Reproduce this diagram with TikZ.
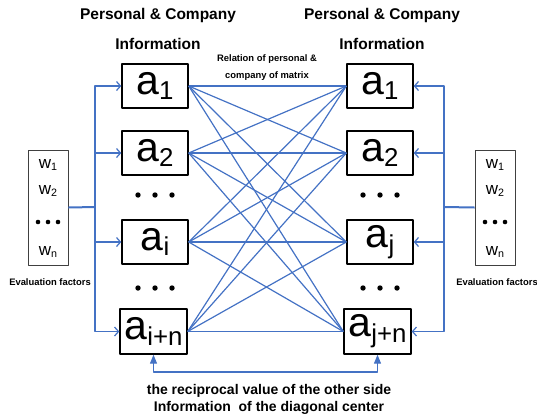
\documentclass[tikz,border=0pt]{standalone}
\usepackage{fontspec}
\setmainfont{Liberation Sans}
\usetikzlibrary{arrows.meta}
\definecolor{linkblue}{RGB}{68,114,196}
\newcommand{\lowsub}[1]{\raisebox{-0.14em}{\scalebox{0.63}{#1}}}
\tikzset{
	abox/.style={draw, line width=1.4pt, minimum width=66, minimum height=44, inner sep=0pt, font=\fontsize{41}{41}\selectfont},
	wbox/.style={draw, black!75, line width=0.9pt, minimum width=40, minimum height=115, inner sep=0pt},
	wtext/.style={font=\fontsize{17}{17}\selectfont, inner sep=0pt},
	link/.style={linkblue, line width=1.2pt},
	barb/.style={link, -{Straight Barb[length=4pt,width=9pt]}},
	feed/.style={link, {Triangle[length=9pt,width=7pt]}-{Triangle[length=9pt,width=7pt]}},
	title/.style={font=\fontsize{15.5}{15.5}\bfseries\selectfont},
	note/.style={font=\fontsize{9.4}{11}\bfseries\selectfont, align=center}
}
\begin{document}
\begin{tikzpicture}[x=1pt, y=-1pt, line join=round]
	\useasboundingbox (0,0) rectangle (537,416);
	\def\xl{155} \def\xr{380} % box columns
	% titles
	\node[title] (tl1) at (158,15) {Personal \& Company};
	\node[title] (tl2) at (158,44) {Information};
	\node[title] (tr1) at (382,15) {Personal \& Company};
	\node[title] (tr2) at (382,44) {Information};
	\node[note] (rel) at (267,67.5) {Relation of personal \&\\[6pt]company of matrix};
	% left column
	\node[abox] (La1) at (\xl,86) {a\lowsub{1}};
	\node[abox] (La2) at (\xl,153) {a\lowsub{2}};
	\node[abox] (Lai) at (\xl,242) {a\lowsub{i}};
	\node[abox, minimum width=67, minimum height=45] (Lan) at (\xl-1.5,331.5) {a\lowsub{i+n}};
	% right column
	\node[abox] (Ra1) at (\xr,86) {a\lowsub{1}};
	\node[abox] (Ra2) at (\xr,153) {a\lowsub{2}};
	\node[abox] (Raj) at (\xr,242) {a\lowsub{j}};
	\node[abox, minimum width=67, minimum height=45] (Ran) at (\xr-2.5,331.5) {a\lowsub{j+n}};
	\foreach \y in {195,288}{
		\foreach \dx in {-17,0,17}{
			\fill (\xl+\dx,\y) circle (2.7);
			\fill (\xr+\dx,\y) circle (2.7);
		}
	}
	% weight boxes
	\foreach \s/\x in {L/48,R/495}{
		\node[wbox] (\s w) at (\x,207.5) {};
		\node[wtext] (\s w1) at (\x,165) {w\lowsub{1}};
		\node[wtext] (\s w2) at (\x,191) {w\lowsub{2}};
		\node[wtext] (\s wn) at (\x,252) {w\lowsub{n}};
		\foreach \dx in {-10,0,10}
			\fill (\x+\dx,222) circle (2.3);
	}
	\node[note] (evl) at (50,282) {Evaluation factors};
	\node[note] (evr) at (497,282) {Evaluation factors};
	% trunks
	\coordinate (tL) at (95,207);
	\coordinate (tR) at (444,207);
	\draw[link, line width=2pt] (Lw.east) -- (tL);
	\draw[link, line width=2pt] (Rw.west) -- (tR);
	\foreach \n in {La1,La2,Lai,Lan}
		\draw[barb] (tL) |- (\n.west);
	\foreach \n in {Ra1,Ra2,Raj,Ran}
		\draw[barb] (tR) |- (\n.east);
	% relations
	\foreach \l in {La1,La2,Lai,Lan}
		\foreach \r in {Ra1,Ra2,Raj,Ran}
			\draw[link] (\l.east) -- (\r.west);
	% feedback
	\coordinate (fb) at (265,372);
	\draw[feed] (Lan.south) |- (fb) -| (Ran.south);
	\node[font=\fontsize{14}{17}\bfseries\selectfont, align=center] (cap) at (269,399) {the reciprocal value of the other side\\Information \ of the diagonal center};
\end{tikzpicture}
\end{document}
